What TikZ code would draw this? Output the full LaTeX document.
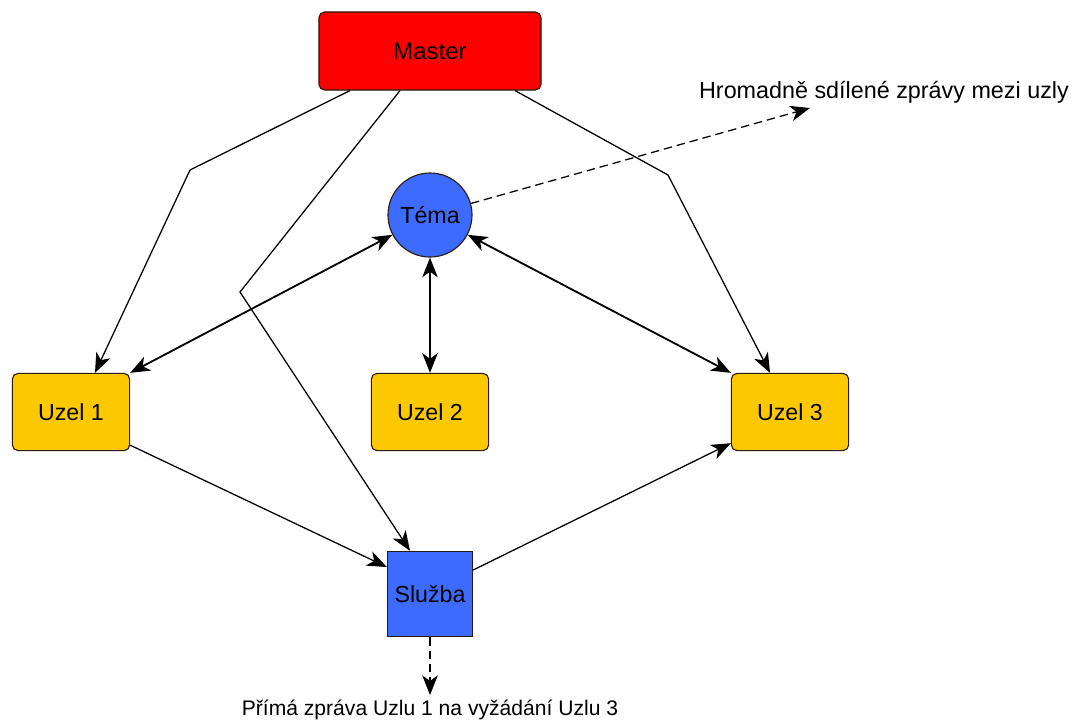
\documentclass[tikz,border=0pt]{standalone}
\usepackage{fontspec}
\setmainfont{Liberation Sans}
\usetikzlibrary{calc,arrows.meta}

\definecolor{mred}{HTML}{FF0000}
\definecolor{mblue}{HTML}{3D6BFF}
\definecolor{myellow}{HTML}{FCC800}
\definecolor{mborder}{HTML}{2A1A10}

\tikzset{
  box/.style={draw=mborder, line width=0.8pt, rounded corners=4pt, inner sep=0pt},
  uzel/.style={box, fill=myellow, minimum width=2.93cm, minimum height=1.93cm},
  hrot/.tip={Stealth[length=14pt,width=11pt,inset=4pt]},
  spoj/.style={line width=0.9pt, -hrot},
  spojobe/.style={line width=1.3pt, hrot-hrot},
  zprava/.style={line width=0.9pt, dash pattern=on 6pt off 3.5pt, -hrot}
}

\begin{document}
\begin{tikzpicture}[x=0.025cm, y=-0.025cm, font=\fontsize{16.5}{19}\selectfont]
\useasboundingbox (0,0) rectangle (1082,726);

%uzly
\node[box, fill=mred, minimum width=5.55cm, minimum height=1.95cm, font=\fontsize{17}{19}\selectfont] (Master) at (430,51) {Master};
\node[draw=mborder, line width=0.8pt, circle, fill=mblue, minimum size=2.1cm, inner sep=0pt] (Tema) at (430,215) {Téma};
\node[uzel] (Uzel1) at (71,412) {Uzel 1};
\node[uzel] (Uzel2) at (430,412) {Uzel 2};
\node[uzel] (Uzel3) at (790,412) {Uzel 3};
\node[draw=mborder, line width=0.8pt, fill=mblue, minimum size=2.13cm, inner sep=0pt] (Sluzba) at (430,594) {Služba};

%popisky
\node[font=\fontsize{16.6}{19}\selectfont] (Hrom) at (884,92) {Hromadně sdílené zprávy mezi uzly};
\node[font=\fontsize{15}{17}\selectfont] (Prima) at (430,710) {Přímá zpráva Uzlu 1 na vyžádání Uzlu 3};
\coordinate (hk) at (810,108);

%lomene cesty od Masteru
\coordinate (b1) at (190,170);
\coordinate (b3) at (668,175);
\coordinate (b2) at (240,292);
\draw[spoj] ($(Master.south)+(-80,0)$)--(b1)--($(Uzel1.north)+(24,0)$);
\draw[spoj] ($(Master.south)+(85,0)$)--(b3)--($(Uzel3.north)+(-20,0)$);
\draw[spoj] ($(Master.south)+(-30,0)$)--(b2)--($(Sluzba.north)+(-20,0)$);

%tema
\draw[spojobe] (Tema)--(Uzel1.north east);
\draw[spojobe] (Tema)--(Uzel2);
\draw[spojobe] (Tema)--(Uzel3.north west);

%sluzba
\draw[spoj] ($(Uzel1.south east)+(0,-6)$)--($(Sluzba.west)+(0,-27)$);
\draw[spoj] ($(Sluzba.east)+(0,-24)$)--($(Uzel3.south west)+(0,-8)$);

%zpravy
\draw[zprava] (Tema)--(hk);
\draw[zprava] (Sluzba)--(Prima);

\end{tikzpicture}
\end{document}
